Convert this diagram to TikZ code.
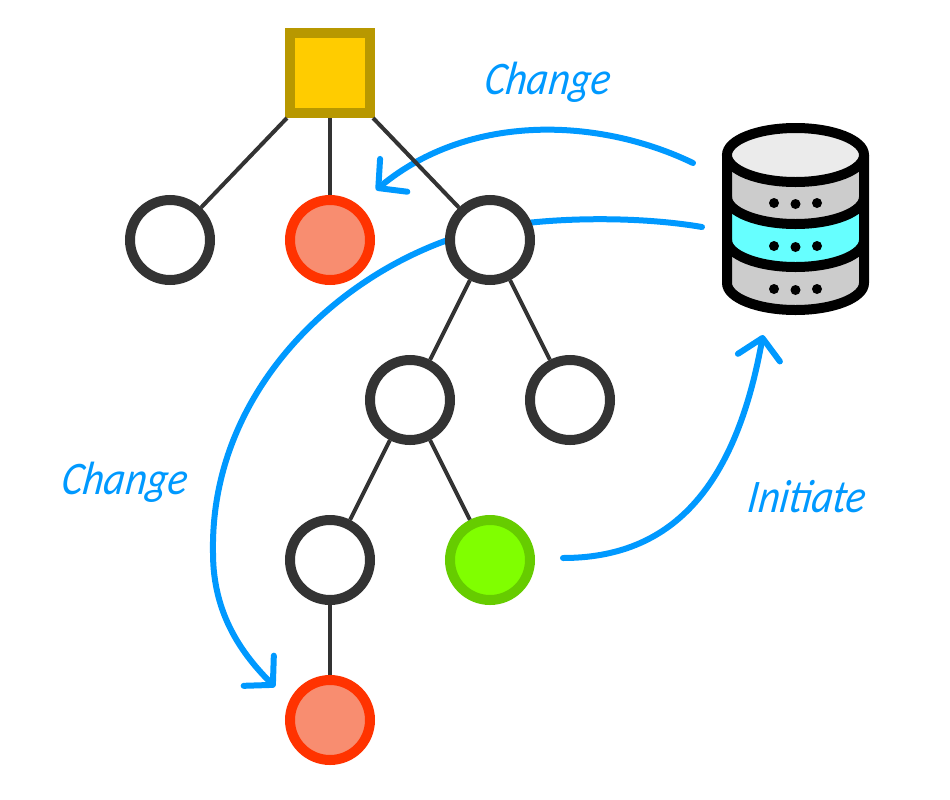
\documentclass[tikz,border=0pt]{standalone}
\usepackage{fontspec}
\newfontfamily\manuscrit{Carlito}
\usetikzlibrary{arrows.meta}
\definecolor{bleu}{HTML}{0099FF}
\definecolor{trait}{HTML}{333333}
\definecolor{rouge}{HTML}{FF3300}
\definecolor{saumon}{HTML}{F88D70}
\definecolor{vert}{HTML}{66CC00}
\definecolor{vertclair}{HTML}{80FF00}
\definecolor{jaune}{HTML}{FFCC00}
\definecolor{ocre}{HTML}{B89800}
\definecolor{turquoise}{HTML}{66FFFF}
\newcommand{\demiarc}[1]{.. controls (727,#1+15) and (758,#1+27) .. (795.5,#1+27) .. controls (833,#1+27) and (864,#1+15) .. (864,#1)}
\tikzset{
  noeud/.style = {circle, draw=trait, fill=white, line width=7.5pt, minimum size=60pt, inner sep=0pt},
  modif/.style = {noeud, draw=rouge, fill=saumon},
  actif/.style = {noeud, draw=vert, fill=vertclair},
  racine/.style = {rectangle, draw=ocre, fill=jaune, line width=7.5pt, minimum size=60pt, inner sep=0pt},
  lien/.style = {draw=trait, line width=3pt},
  fleche/.style = {draw=bleu, line width=4.5pt, line cap=round, -{Straight Barb[length=15pt,width=32pt,round]}},
  texte/.style = {text=bleu, xslant=0.15, xscale=0.88, transform shape, font=\manuscrit\itshape\fontsize{35}{37}\selectfont}
}
\begin{document}
\begin{tikzpicture}[x=0.75pt,y=-0.75pt]
  \useasboundingbox (0,0) rectangle (950,800);

  % dessiner les extremites libres
  \coordinate (dep1) at (693,163);
  \coordinate (arr1) at (376,190);
  \coordinate (dep2) at (702,227);
  \coordinate (arr2) at (275,687);
  \coordinate (dep3) at (563,558);
  \coordinate (arr3) at (763,335);

  % dessiner les courbes
  \draw[fleche] (dep1) .. controls (600,118) and (470,112) .. (arr1);
  \draw[fleche] (dep2) .. controls (620,213) and (500,218) .. (445,241) .. controls (325,285) and (210,400) .. (213,553) .. controls (213,615) and (243,655) .. (arr2);
  \draw[fleche] (dep3) .. controls (670,558) and (735,490) .. (arr3);

  % dessiner les noeuds
  \node[racine] (r) at (330,73) {};
  \node[noeud] (a) at (170,240) {};
  \node[modif] (b) at (330,240) {};
  \node[noeud] (c) at (490,240) {};
  \node[noeud] (d) at (410,400) {};
  \node[noeud] (e) at (570,400) {};
  \node[noeud] (f) at (330,560) {};
  \node[actif] (g) at (490,560) {};
  \node[modif] (h) at (330,720) {};

  % dessiner les liens
  \foreach \u/\v in {r/a,r/b,r/c,c/d,c/e,d/f,d/g,f/h}
    \draw[lien] (\u) -- (\v);

  % dessiner la base
  \fill[gray!40] (727,155) -- (727,283) \demiarc{283} -- (864,155) -- cycle;
  \fill[turquoise] (727,197) \demiarc{197} -- (864,240) .. controls (864,255) and (833,267) .. (795.5,267) .. controls (758,267) and (727,255) .. (727,240) -- cycle;
  \foreach \y in {197,240}
    \draw[line width=7.5pt] (727,\y) \demiarc{\y};
  \draw[line width=7.5pt, line join=round] (727,155) -- (727,283) \demiarc{283} -- (864,155);
  \draw[line width=7.5pt, fill=black!8] (795.5,155) ellipse [x radius=68.5, y radius=27];
  \foreach \y in {203,246,289}
    \foreach \x/\d in {774/0,795.5/1,817/0}
      \fill (\x,\y+\d) circle (5);

  % dessiner les textes
  \node[texte] (chg1) at (548,82) {Change};
  \node[texte] (chg2) at (125,482) {Change};
  \node[texte] (ini) at (808,497) {Initiate};
\end{tikzpicture}
\end{document}
